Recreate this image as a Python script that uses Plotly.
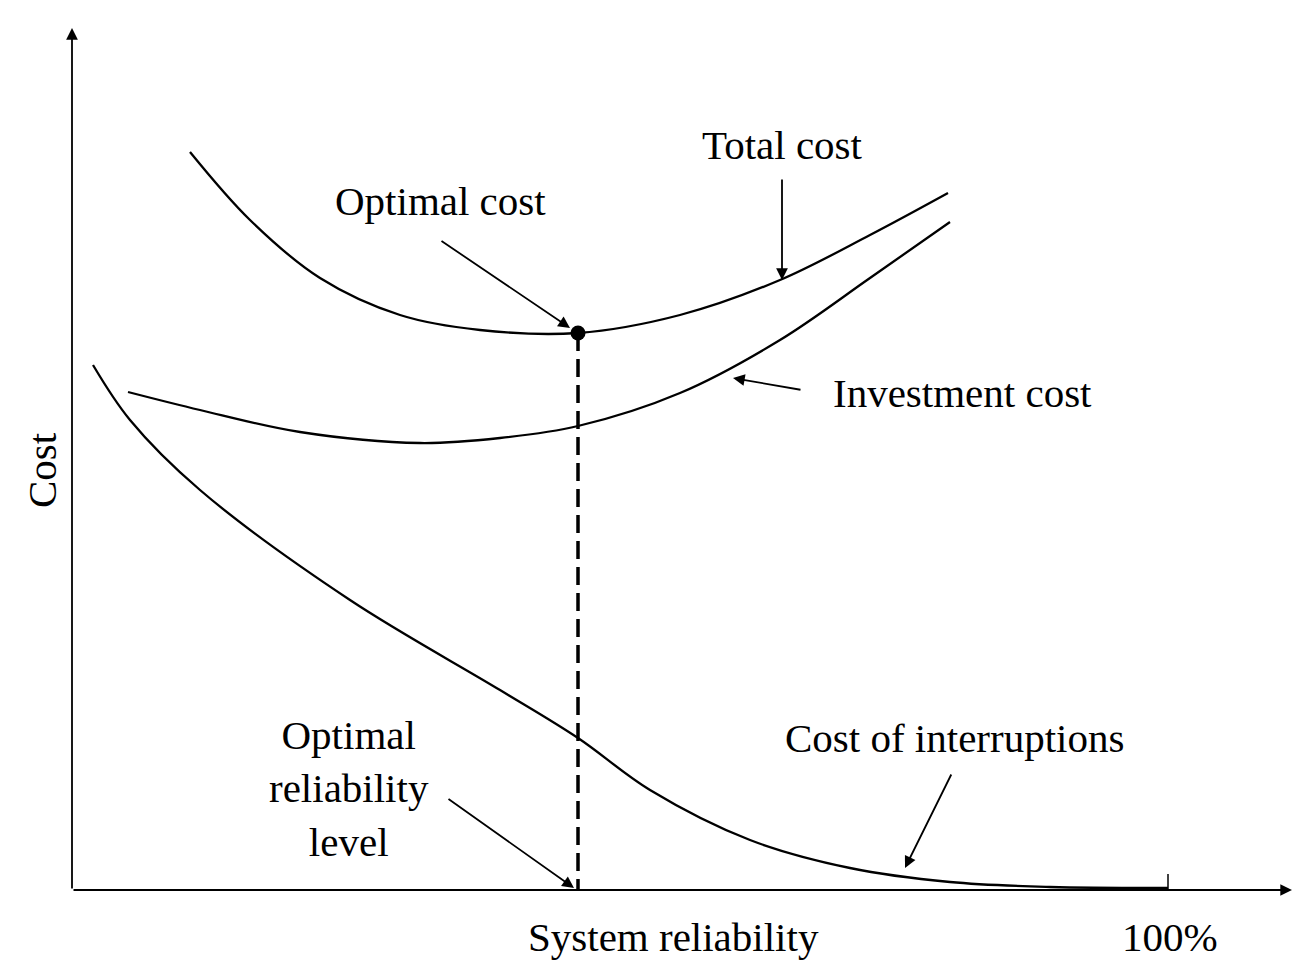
import plotly.graph_objects as go

total_x = [190, 250, 320, 400, 480, 578, 680, 780, 870, 948]
total_y = [152, 220, 278, 315, 330, 333, 315, 280, 235, 193]
inv_x = [128, 200, 300, 420, 500, 578, 680, 780, 870, 950]
inv_y = [392, 410, 432, 443, 438, 426, 393, 340, 278, 222]
int_x = [93, 130, 200, 350, 500, 578, 650, 750, 850, 950, 1050, 1168]
int_y = [365, 420, 490, 600, 690, 738, 790, 840, 868, 882, 887, 888]
opt_x, opt_y = 578, 333

fig = go.Figure()
line = dict(color="black", width=2.3, shape="spline")
for xs, ys in [(total_x, total_y), (inv_x, inv_y), (int_x, int_y)]:
    fig.add_trace(go.Scatter(x=xs, y=ys, mode="lines", line=line, hoverinfo="skip"))
fig.add_trace(go.Scatter(x=[opt_x, opt_x], y=[opt_y, 890], mode="lines",
                         line=dict(color="black", width=3.5, dash="18px,8px")))
fig.add_trace(go.Scatter(x=[opt_x], y=[opt_y], mode="markers",
                         marker=dict(color="black", size=15)))

shapes = [
    dict(type="line", x0=1168, x1=1168, y0=874, y1=890, line=dict(color="black", width=1.5)),
]
font = dict(family="Liberation Serif, serif", size=41, color="black")
ann = []
def arrow(x, y, ax, ay, head=2):
    ann.append(dict(x=x, y=y, ax=ax, ay=ay, xref="x", yref="y", axref="x", ayref="y",
                    text="", showarrow=True, arrowhead=head, arrowsize=1.3, arrowwidth=1.8,
                    arrowcolor="black"))
arrow(1292, 890, 72, 890)
arrow(72, 28, 72, 890)
arrow(570, 328, 440, 240)
arrow(782, 280, 782, 178)
arrow(733, 378, 802, 390)
arrow(905, 868, 952, 773)
arrow(574, 888, 447, 798)

def text(x, y, t):
    ann.append(dict(x=x, y=y, xref="x", yref="y", text=t, showarrow=False, font=font))
text(782, 145, "Total cost")
text(440, 201, "Optimal cost")
text(962, 393, "Investment cost")
text(954, 738, "Cost of interruptions")
text(349, 788, "Optimal<br>reliability<br>level")
text(673, 937, "System reliability")
text(1170, 937, "100%")
ann.append(dict(x=42, y=470, xref="x", yref="y", text="Cost", showarrow=False,
                textangle=-90, font=font))

fig.update_layout(width=1311, height=979, margin=dict(l=0, r=0, t=0, b=0),
                  plot_bgcolor="white", paper_bgcolor="white", showlegend=False,
                  shapes=shapes, annotations=ann,
                  xaxis=dict(range=[8, 1319], visible=False),
                  yaxis=dict(range=[987, 8], visible=False))
fig.write_html("out.html")
